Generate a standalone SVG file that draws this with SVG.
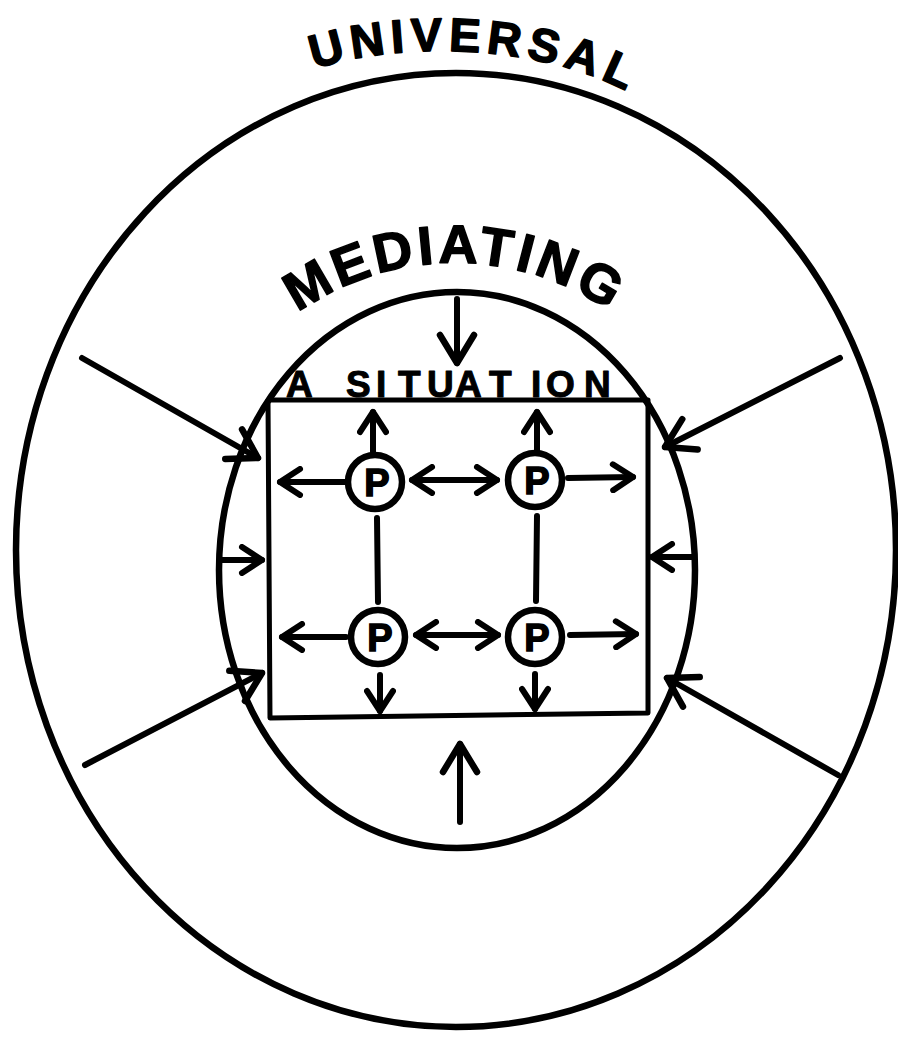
<svg xmlns="http://www.w3.org/2000/svg" width="898" height="1040" viewBox="0 0 898 1040">
<style>
.ln{fill:none;stroke:#000;stroke-width:6;stroke-linecap:round;stroke-linejoin:round}
.big{font-family:"Liberation Sans",Arial,sans-serif;font-weight:bold;fill:#000;stroke:#000;stroke-linejoin:round}
.pt{font-family:"Liberation Sans",Arial,sans-serif;font-weight:bold;font-size:38px;fill:#000;stroke:#000;stroke-width:1.5;text-anchor:middle}
</style>
<defs>
<marker id="ah" viewBox="0 0 30 32" refX="26" refY="16" markerWidth="30" markerHeight="32" markerUnits="userSpaceOnUse" orient="auto-start-reverse">
<path d="M6,3 L26,16 L6,29" fill="none" stroke="#000" stroke-width="6" stroke-linecap="round" stroke-linejoin="round"/>
</marker>
<marker id="ahL" viewBox="0 0 38 42" refX="34" refY="21" markerWidth="38" markerHeight="42" markerUnits="userSpaceOnUse" orient="auto">
<path d="M6,4 L34,21 L6,38" fill="none" stroke="#000" stroke-width="6.5" stroke-linecap="round" stroke-linejoin="round"/>
</marker>
<path id="arcU" d="M305 73 C375 44 530 36 640 98"/>
<path id="arcM" d="M275 331 A272 272 0 0 1 635 331"/>
</defs>
<rect width="898" height="1040" fill="#fff"/>
<g id="universal">
<ellipse cx="456" cy="550" rx="440" ry="477" class="ln" style="stroke-width:6.5"/>
<text class="big" font-size="47" stroke-width="1.5" letter-spacing="6"><textPath href="#arcU" startOffset="50%" text-anchor="middle">UNIVERSAL</textPath></text>
</g>
<g id="mediating">
<ellipse cx="457" cy="570" rx="238" ry="278" class="ln" style="stroke-width:6.5"/>
<text class="big" font-size="54" stroke-width="1.5" letter-spacing="4"><textPath href="#arcM" startOffset="50%" text-anchor="middle">MEDIATING</textPath></text>
</g>
<g id="situation">
<path class="ln" d="M268 400 L648 400 L648 713 L270 718 Z" style="stroke-width:5"/>
<text class="big" font-size="37" stroke-width="1" y="397" x="286 322 346 376 398 427 455 489 531 546 584">A SITUATION</text>
</g>
<g id="p1"><circle cx="375" cy="482" r="27" class="ln" style="stroke-width:6.5"/><text class="pt" x="377" y="496">P</text></g>
<g id="p2"><circle cx="535" cy="480" r="27" class="ln" style="stroke-width:6.5"/><text class="pt" x="537" y="494">P</text></g>
<g id="p3"><circle cx="378" cy="637" r="27" class="ln" style="stroke-width:6.5"/><text class="pt" x="380" y="651">P</text></g>
<g id="p4"><circle cx="535" cy="637" r="27" class="ln" style="stroke-width:6.5"/><text class="pt" x="537" y="651">P</text></g>
<g id="connectors" class="ln">
<line x1="373" y1="453" x2="373" y2="412" marker-end="url(#ah)"/>
<line x1="537" y1="451" x2="537" y2="412" marker-end="url(#ah)"/>
<line x1="345" y1="482" x2="280" y2="482" marker-end="url(#ah)"/>
<line x1="412" y1="480" x2="497" y2="480" marker-start="url(#ah)" marker-end="url(#ah)"/>
<line x1="568" y1="478" x2="633" y2="477" marker-end="url(#ah)"/>
<line x1="377" y1="518" x2="378" y2="602"/>
<line x1="537" y1="516" x2="536" y2="601"/>
<line x1="346" y1="637" x2="282" y2="637" marker-end="url(#ah)"/>
<line x1="416" y1="635" x2="498" y2="635" marker-start="url(#ah)" marker-end="url(#ah)"/>
<line x1="570" y1="635" x2="636" y2="634" marker-end="url(#ah)"/>
<line x1="380" y1="675" x2="380" y2="711" marker-end="url(#ah)"/>
<line x1="535" y1="674" x2="535" y2="709" marker-end="url(#ah)"/>
<line x1="457" y1="299" x2="457" y2="363" marker-end="url(#ahL)"/>
<line x1="460" y1="822" x2="460" y2="744" marker-end="url(#ahL)"/>
<line x1="82" y1="358" x2="258" y2="458" marker-end="url(#ahL)"/>
<line x1="85" y1="765" x2="262" y2="673" marker-end="url(#ahL)"/>
<line x1="221" y1="560" x2="262" y2="560" marker-end="url(#ah)"/>
<line x1="840" y1="358" x2="665" y2="447" marker-end="url(#ahL)"/>
<line x1="838" y1="775" x2="667" y2="678" marker-end="url(#ahL)"/>
<line x1="694" y1="557" x2="652" y2="557" marker-end="url(#ah)"/>
</g>
</svg>
